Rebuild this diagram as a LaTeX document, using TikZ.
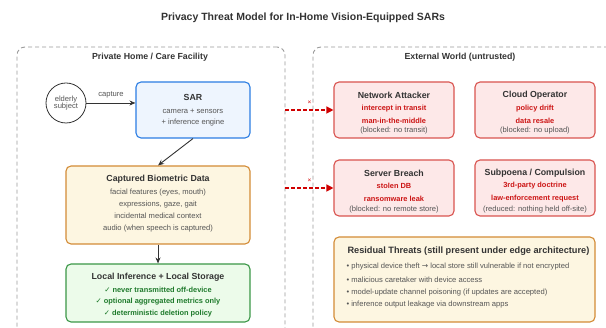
\documentclass[tikz,border=0pt]{standalone}
\usepackage{fontspec}
\setmainfont{Liberation Sans}
\newfontfamily\symfont{DejaVu Sans}
\usetikzlibrary{arrows.meta}

% colours of the picture
\definecolor{inkdark}{HTML}{333333}
\definecolor{inkgray}{HTML}{555555}
\definecolor{framegray}{HTML}{9A9A9A}
\definecolor{sarfill}{HTML}{EEF5FE}
\definecolor{sardraw}{HTML}{2B7DE3}
\definecolor{biofill}{HTML}{FDF6E1}
\definecolor{biodraw}{HTML}{D38B36}
\definecolor{localfill}{HTML}{ECFBEA}
\definecolor{localdraw}{HTML}{3A9747}
\definecolor{localtext}{HTML}{1E7A2B}
\definecolor{threatfill}{HTML}{FDE8E8}
\definecolor{threatdraw}{HTML}{D9534F}
\definecolor{threattext}{HTML}{CC1414}
\definecolor{leakred}{HTML}{D00000}

\tikzset{
  zone/.style={draw=framegray, line width=0.9pt, dash pattern=on 4pt off 3pt,
    rounded corners=8pt, inner sep=0pt},
  box/.style={rounded corners=5pt, line width=1.1pt, inner sep=0pt},
  sarbox/.style={box, draw=sardraw, fill=sarfill},
  biobox/.style={box, draw=biodraw, fill=biofill},
  localbox/.style={box, draw=localdraw, fill=localfill},
  threatbox/.style={box, draw=threatdraw, fill=threatfill,
    minimum width=120pt, minimum height=56pt},
  title/.style={text=inkdark, font=\bfseries\fontsize{10.5}{12}\selectfont},
  zonetitle/.style={text=inkdark, font=\bfseries\fontsize{8.8}{10}\selectfont},
  boxtitle/.style={text=inkdark, font=\bfseries\fontsize{8.8}{10}\selectfont},
  body/.style={text=inkgray, font=\fontsize{7.6}{9}\selectfont},
  goodline/.style={text=localtext, font=\bfseries\fontsize{7.4}{9}\selectfont},
  badline/.style={text=threattext, font=\bfseries\fontsize{7.4}{9}\selectfont},
  arr/.style={draw=inkdark, line width=0.9pt, -{Stealth[length=6pt,width=5pt]}},
  leak/.style={draw=leakred, line width=1.2pt, dash pattern=on 3.5pt off 2.5pt,
    -{Triangle[length=7pt,width=7pt]}}
}

\begin{document}
\begin{tikzpicture}[x=1pt, y=-1pt]

  % page size and clip (the two zones run off the page)
  \useasboundingbox (0,0) rectangle (606,328);
  \clip (0,0) rectangle (606,328);

  % Title
  \node[title] (heading) at (303,18) {Privacy Threat Model for In-Home Vision-Equipped SARs};

  % The two zones
  \node[zone, minimum width=268pt, minimum height=293pt] (home) at (151,193.5) {};
  \node[zone, minimum width=317pt, minimum height=293pt] (world) at (471.5,193.5) {};
  \node[zonetitle] (hometitle) at (150,57) {Private Home / Care Facility};
  \node[zonetitle] (worldtitle) at (460,57) {External World (untrusted)};

  % ---------- inside the home ----------

  % elderly subject
  \node[circle, draw=inkdark, line width=0.8pt, minimum size=40pt, inner sep=0pt,
        body, align=center, text=inkgray] (subject) at (66,103) {elderly\\[-1.5pt]subject};

  % SAR
  \node[sarbox, minimum width=114pt, minimum height=56pt] (sar) at (193,110) {};
  \node[boxtitle] (sartitle) at (193,97) {SAR};
  \node[body] at (193,111) {camera + sensors};
  \node[body] at (193,123) {+ inference engine};

  % captured data
  \node[biobox, minimum width=184pt, minimum height=78pt] (bio) at (158,205) {};
  \node[boxtitle] (biotitle) at (158,179) {Captured Biometric Data};
  \node[body] at (158,193) {facial features (eyes, mouth)};
  \node[body] at (158,205) {expressions, gaze, gait};
  \node[body] at (158,216) {incidental medical context};
  \node[body] at (158,229) {audio (when speech is captured)};

  % local processing
  \node[localbox, minimum width=184pt, minimum height=58pt] (local) at (158,293) {};
  \node[boxtitle] (localtitle) at (158,277) {Local Inference + Local Storage};
  \node[goodline] at (158,290) {{\symfont\mdseries ✓} never transmitted off-device};
  \node[goodline] at (158,302) {{\symfont\mdseries ✓} optional aggregated metrics only};
  \node[goodline] at (158,314) {{\symfont\mdseries ✓} deterministic deletion policy};

  % flow inside the home
  \draw[arr] (subject.east) -- node[midway, above, body, yshift=1pt] {capture}
        (sar.west |- subject.east);
  \draw[arr] (sar.south) -- (bio.north);
  \draw[arr] (bio) -- (local);

  % ---------- outside world ----------

  % network attacker
  \node[threatbox] (net) at (394,110) {};
  \node[boxtitle] at (394,95) {Network Attacker};
  \node[badline] at (394,109) {intercept in transit};
  \node[badline] at (394,121) {man-in-the-middle};
  \node[body] at (394,131) {(blocked: no transit)};

  % cloud operator
  \node[threatbox] (cloud) at (535,110) {};
  \node[boxtitle] at (535,95) {Cloud Operator};
  \node[badline] at (535,109) {policy drift};
  \node[badline] at (535,121) {data resale};
  \node[body] at (535,131) {(blocked: no upload)};

  % server breach
  \node[threatbox] (breach) at (394,188) {};
  \node[boxtitle] at (394,173) {Server Breach};
  \node[badline] at (394,186) {stolen DB};
  \node[badline] at (394,199) {ransomware leak};
  \node[body] at (394,210) {(blocked: no remote store)};

  % subpoena
  \node[threatbox] (subpoena) at (535,188) {};
  \node[boxtitle] at (535,173) {Subpoena / Compulsion};
  \node[badline] at (535,186) {3rd-party doctrine};
  \node[badline] at (535,199) {law-enforcement request};
  \node[body] at (535,210) {(reduced: nothing held off-site)};

  % residual threats
  \node[biobox, minimum width=261pt, minimum height=85pt] (residual) at (464.5,279.5) {};
  \node[boxtitle, anchor=west, font=\bfseries\fontsize{9.2}{10}\selectfont] at (344,251)
       {Residual Threats (still present under edge architecture)};
  \node[body, anchor=west] at (343,267) {• physical device theft {\symfont →} local store still vulnerable if not encrypted};
  \node[body, anchor=west] at (343,280) {• malicious caretaker with device access};
  \node[body, anchor=west] at (343,293) {• model-update channel poisoning (if updates are accepted)};
  \node[body, anchor=west] at (343,305) {• inference output leakage via downstream apps};

  % blocked leaks across the boundary
  \draw[leak] (home.east |- net.west) -- node[midway, above, text=leakred,
        font=\fontsize{6.5}{6.5}\selectfont, yshift=2pt] {×} (net.west);
  \draw[leak] (home.east |- breach.west) -- node[midway, above, text=leakred,
        font=\fontsize{6.5}{6.5}\selectfont, yshift=2pt] {×} (breach.west);

\end{tikzpicture}
\end{document}
